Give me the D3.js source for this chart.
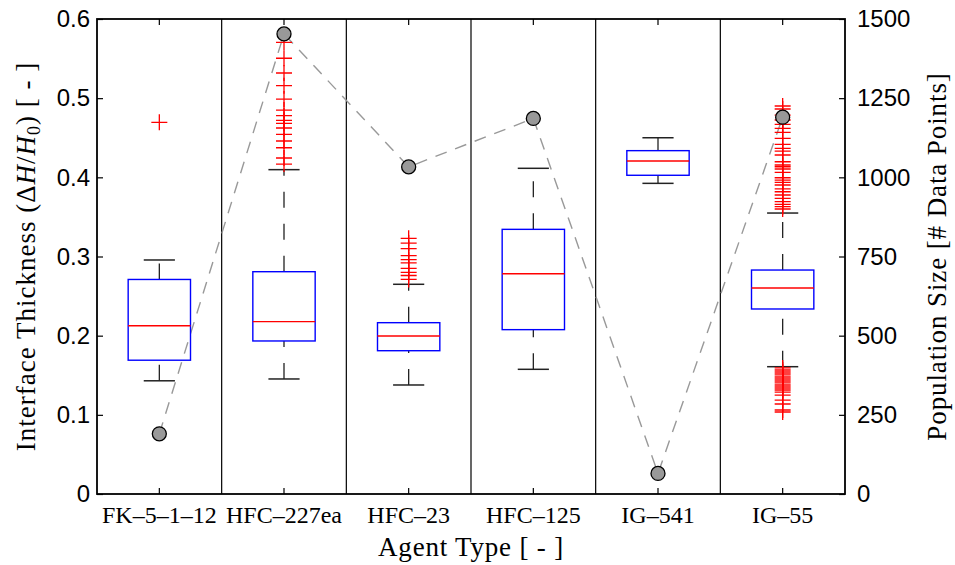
<!DOCTYPE html>
<html><head><meta charset="utf-8">
<script src="https://cdn.jsdelivr.net/npm/d3@7"></script>
<style>body{margin:0;background:#fff}svg{display:block}</style>
</head><body>
<script>
const categories = ["FK\u20135\u20131\u201312","HFC\u2013227ea","HFC\u201323","HFC\u2013125","IG\u2013541","IG\u201355"];
const q1 = [0.169, 0.1933, 0.181, 0.2076, 0.4026, 0.2337];
const medians = [0.2126, 0.2177, 0.1996, 0.2783, 0.4206, 0.2602];
const q3 = [0.271, 0.2808, 0.2164, 0.3343, 0.4337, 0.2829];
const whiskerLow = [0.143, 0.1453, 0.1377, 0.1575, 0.3924, 0.1608];
const whiskerHigh = [0.2956, 0.4097, 0.2649, 0.4114, 0.450, 0.3549];
const outliers = [
  [0.4695],
  [0.5705,0.5504,0.5318,0.5158,0.4989,0.4850,0.4779,0.4720,0.4682,0.4623,0.4543,0.4459,0.4374,0.4244,0.4168],
  [0.323,0.317,0.310,0.301,0.296,0.292,0.285,0.280,0.276,0.271],
  [],
  [],
  [0.4901,0.4863,0.4787,0.4724,0.4670,0.4619,0.4569,0.4493,0.4417,0.4367,0.4332,0.4282,0.4197,0.4156,0.4134,0.4105,0.4063,0.3995,0.3966,0.3937,0.3903,0.3853,0.3818,0.3777,0.3735,0.3692,0.3659,0.3629,0.3600,
   0.1592,0.1566,0.1541,0.1516,0.1490,0.1465,0.1440,0.1415,0.1389,0.1364,0.1339,0.1314,0.1288,0.1250,0.1187,0.1137,0.1061,0.1036]
];
const populationSize = [190, 1453, 1033, 1186, 65, 1190];
const leftTicks = [0,0.1,0.2,0.3,0.4,0.5,0.6];
const rightTicks = [0,250,500,750,1000,1250,1500];

const W = 955, H = 565;
const L = 97, R = 845, T = 19, B = 494;
const svg = d3.select("body").append("svg").attr("width", W).attr("height", H);

const x = d3.scaleBand().domain(categories).range([L, R]).paddingInner(0).paddingOuter(0);
const y = d3.scaleLinear().domain([0, 0.6]).range([B, T]);
const y2 = d3.scaleLinear().domain([0, 1500]).range([B, T]);
const cx = c => x(c) + x.bandwidth() / 2;
const bw = x.bandwidth();

// separators
svg.append("g").selectAll("line").data(categories.slice(1)).join("line")
  .attr("x1", d => x(d)).attr("x2", d => x(d)).attr("y1", T).attr("y2", B)
  .attr("stroke", "#000").attr("stroke-width", 1.2);

// axes
const sans = "'Liberation Sans', Arial, Helvetica, sans-serif";
const serif = "'Liberation Serif', 'Times New Roman', serif";

const gL = svg.append("g").attr("transform", `translate(${L},0)`)
  .call(d3.axisLeft(y).tickValues(leftTicks).tickFormat(d => d === 0 ? "0" : d3.format(".1f")(d)).tickSizeInner(-6).tickSizeOuter(0).tickPadding(7));
const gR = svg.append("g").attr("transform", `translate(${R},0)`)
  .call(d3.axisRight(y2).tickValues(rightTicks).tickFormat(d3.format("d")).tickSizeInner(-6).tickSizeOuter(0).tickPadding(12));
const gB = svg.append("g").attr("transform", `translate(0,${B})`)
  .call(d3.axisBottom(x).tickSizeInner(-6).tickSizeOuter(0).tickPadding(12));
const gT = svg.append("g").attr("transform", `translate(0,${T})`)
  .call(d3.axisTop(x).tickSizeInner(-6).tickSizeOuter(0).tickFormat(""));
[gL, gR, gB, gT].forEach(g => {
  g.select(".domain").remove();
  g.selectAll(".tick line").attr("stroke", "#000").attr("stroke-width", 1.2);
});
[gL, gR].forEach(g => g.selectAll("text").attr("font-family", sans).attr("font-size", 24).attr("fill", "#000"));
gB.selectAll("text").attr("font-family", serif).attr("font-size", 24).attr("fill", "#000");

// frame
svg.append("rect").attr("x", L).attr("y", T).attr("width", R - L).attr("height", B - T)
  .attr("fill", "none").attr("stroke", "#000").attr("stroke-width", 1.8);

// population dashed line
svg.append("path").datum(categories)
  .attr("d", d3.line().x(d => cx(d)).y((d, i) => y2(populationSize[i])))
  .attr("fill", "none").attr("stroke", "#999").attr("stroke-width", 1.4).attr("stroke-dasharray", "12,9");

// boxes
const gBox = svg.append("g").selectAll("g").data(categories).join("g");
// whiskers (drawn from low value to high value)
gBox.append("line").attr("x1", cx).attr("x2", cx)
  .attr("y1", (d, i) => y(whiskerLow[i])).attr("y2", (d, i) => y(q1[i]))
  .attr("stroke", "#222").attr("stroke-width", 1.3).attr("stroke-dasharray", "16,16");
gBox.append("line").attr("x1", cx).attr("x2", cx)
  .attr("y1", (d, i) => y(q3[i])).attr("y2", (d, i) => y(whiskerHigh[i]))
  .attr("stroke", "#222").attr("stroke-width", 1.3).attr("stroke-dasharray", "16,16");
// caps
[whiskerLow, whiskerHigh].forEach(arr => {
  gBox.append("line").attr("x1", d => cx(d) - bw / 8).attr("x2", d => cx(d) + bw / 8)
    .attr("y1", (d, i) => y(arr[i])).attr("y2", (d, i) => y(arr[i]))
    .attr("stroke", "#222").attr("stroke-width", 1.5);
});
gBox.append("rect").attr("x", d => cx(d) - bw / 4).attr("width", bw / 2)
  .attr("y", (d, i) => y(q3[i])).attr("height", (d, i) => y(q1[i]) - y(q3[i]))
  .attr("fill", "none").attr("stroke", "#0000ff").attr("stroke-width", 1.4);
gBox.append("line").attr("x1", d => cx(d) - bw / 4).attr("x2", d => cx(d) + bw / 4)
  .attr("y1", (d, i) => y(medians[i])).attr("y2", (d, i) => y(medians[i]))
  .attr("stroke", "#ff0000").attr("stroke-width", 1.4);

// outliers
const outData = [];
categories.forEach((c, i) => outliers[i].forEach(v => outData.push({c, v})));
svg.append("g").selectAll("path").data(outData).join("path")
  .attr("transform", d => `translate(${cx(d.c)},${y(d.v)})`)
  .attr("d", "M-8,0H8M0,-8V8")
  .attr("stroke", "#ff0000").attr("stroke-width", 1.3).attr("fill", "none");

// population circles
svg.append("g").selectAll("circle").data(categories).join("circle")
  .attr("cx", cx).attr("cy", (d, i) => y2(populationSize[i])).attr("r", 7)
  .attr("fill", "#999").attr("stroke", "#000").attr("stroke-width", 1.3);

// axis titles
const yl = svg.append("text").attr("transform", `translate(35,${(T + B) / 2}) rotate(-90)`)
  .attr("text-anchor", "middle").attr("font-family", serif).attr("font-size", 27)
  .attr("letter-spacing", 1).attr("fill", "#000");
yl.append("tspan").text("Interface Thickness (\u0394");
yl.append("tspan").attr("font-style", "italic").text("H");
yl.append("tspan").text("/");
yl.append("tspan").attr("font-style", "italic").text("H");
yl.append("tspan").attr("font-size", 18).attr("dy", 5).text("0");
yl.append("tspan").attr("dy", -5).text(") [ - ]");

svg.append("text").attr("transform", `translate(946,${(T + B) / 2}) rotate(-90)`)
  .attr("text-anchor", "middle").attr("font-family", serif).attr("font-size", 27)
  .attr("letter-spacing", 0.9).attr("fill", "#000")
  .text("Population Size [# Data Points]");

svg.append("text").attr("x", (L + R) / 2).attr("y", 556)
  .attr("text-anchor", "middle").attr("font-family", serif).attr("font-size", 27)
  .attr("letter-spacing", 0.8).attr("fill", "#000")
  .text("Agent Type [ - ]");
</script>
</body></html>
